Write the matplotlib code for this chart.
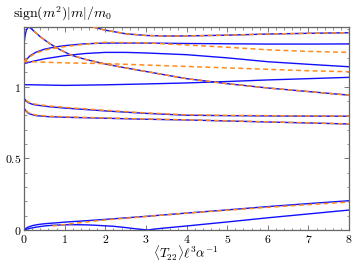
import numpy as np
import matplotlib
matplotlib.use("Agg")
import matplotlib.pyplot as plt
from matplotlib.ticker import MultipleLocator, FuncFormatter

plt.rcParams["mathtext.fontset"] = "cm"
plt.rcParams["font.family"] = "serif"
plt.rcParams["font.serif"] = ["cmr10", "DejaVu Serif"]

# ── data ────────────────────────────────────────────────────────────────────
# blue solid curves
x_top = [1.7, 2.0, 2.5, 3.0, 3.5, 4.0, 5.0, 6.0, 7.0, 8.0]
y_top = [1.415, 1.393, 1.368, 1.356, 1.352, 1.353, 1.358, 1.366, 1.371, 1.375]

x_peak = [0, 0.03, 0.06, 0.1, 0.15, 0.25, 0.4, 0.65, 0.9, 1.15, 1.5, 2.0,
          2.5, 3.0, 3.5, 4.0, 5.0, 6.0, 7.0, 8.0]
y_peak = [1.30, 1.36, 1.395, 1.413, 1.41, 1.385, 1.347, 1.296, 1.255, 1.22,
          1.19, 1.157, 1.13, 1.105, 1.08, 1.055, 1.02, 0.99, 0.965, 0.94]

x_b3 = [0, 0.05, 0.15, 0.3, 0.5, 0.75, 1.0, 1.5, 2.0, 3.0, 4.0, 5.0, 6.0, 7.0, 8.0]
y_b3 = [1.16, 1.185, 1.215, 1.24, 1.26, 1.275, 1.285, 1.298, 1.303, 1.303,
        1.300, 1.298, 1.296, 1.296, 1.297]

x_b2 = [0, 0.25, 0.5, 1.0, 1.5, 2.0, 2.5, 3.0, 4.0, 5.0, 6.0, 7.0, 8.0]
y_b2 = [1.16, 1.178, 1.193, 1.215, 1.23, 1.238, 1.238, 1.234, 1.222, 1.2,
        1.173, 1.155, 1.138]

x_flat = [0, 1, 2, 3, 4, 5, 6, 7, 8]
y_flat = [1.013, 1.008, 1.012, 1.018, 1.025, 1.035, 1.046, 1.055, 1.064]

x_l1 = [0, 0.05, 0.1, 0.2, 0.3, 0.6, 1, 2, 3, 4, 5, 6, 7, 8]
y_l1 = [0.92, 0.90, 0.888, 0.877, 0.871, 0.86, 0.85, 0.83, 0.813, 0.80,
        0.797, 0.795, 0.794, 0.793]

x_l2 = [0, 0.05, 0.1, 0.15, 0.3, 0.6, 1, 2, 3, 4, 5, 6, 7, 8]
y_l2 = [0.85, 0.83, 0.815, 0.808, 0.797, 0.79, 0.786, 0.779, 0.772, 0.767,
        0.76, 0.753, 0.746, 0.739]

x_z1 = [0, 0.15, 0.3, 0.5, 0.7, 1.0, 1.2, 1.5, 1.7, 2.0, 2.2, 2.5, 2.7, 2.9,
        3.05, 3.2, 3.4, 3.7, 4, 5, 6, 7, 8]
y_z1 = [0, 0.012, 0.02, 0.028, 0.033, 0.036, 0.037, 0.036, 0.034, 0.029,
        0.026, 0.017, 0.01, 0.004, 0.0, 0.006, 0.012, 0.02, 0.028, 0.056,
        0.085, 0.112, 0.139]

x_z2 = [0, 0.05, 0.1, 0.2, 0.3, 0.45, 0.6, 0.8, 1, 1.5, 2, 3, 4, 5, 6, 7, 8]
y_z2 = [0, 0.012, 0.02, 0.03, 0.036, 0.042, 0.046, 0.05, 0.055, 0.064,
        0.074, 0.095, 0.118, 0.14, 0.163, 0.184, 0.204]

# orange dashed curves
xo_top = x_top
yo_top = y_top

xo_peak = x_peak[5:]
yo_peak = y_peak[5:]

xo_3 = [0, 0.1, 0.3, 0.6, 1.0, 1.5, 2.0, 3.0, 4.0, 5.0, 6.0, 7.0, 8.0]
yo_3 = [1.17, 1.2, 1.235, 1.26, 1.278, 1.295, 1.308, 1.304, 1.29, 1.274,
        1.256, 1.245, 1.238]

xo_1 = [0, 0.5, 1, 2, 3, 4, 5, 6, 7, 8]
yo_1 = [1.175, 1.17, 1.165, 1.16, 1.15, 1.14, 1.13, 1.12, 1.11, 1.103]

xo_l1 = [0.05, 0.1, 0.2, 0.3, 0.6, 1, 2, 3, 4, 5, 6, 7, 8]
yo_l1 = [0.905, 0.893, 0.882, 0.876, 0.865, 0.855, 0.834, 0.816, 0.803,
         0.799, 0.797, 0.795, 0.794]

xo_l2 = [0.05, 0.1, 0.15, 0.3, 0.6, 1, 2, 3, 4, 5, 6, 7, 8]
yo_l2 = [0.835, 0.82, 0.812, 0.801, 0.793, 0.789, 0.781, 0.774, 0.768,
         0.761, 0.754, 0.747, 0.74]

xo_z2 = [0.7, 1, 1.5, 2, 3, 4, 5, 6, 7, 8]
yo_z2 = [0.028, 0.038, 0.055, 0.07, 0.094, 0.117, 0.138, 0.158, 0.177, 0.195]

BLUE = "#1010ff"
ORANGE = "#ff8c1a"

blue_curves = [(x_top, y_top), (x_peak, y_peak), (x_b3, y_b3), (x_b2, y_b2),
               (x_flat, y_flat), (x_l1, y_l1), (x_l2, y_l2),
               (x_z1, y_z1), (x_z2, y_z2)]
orange_curves = [(xo_top, yo_top), (xo_peak, yo_peak), (xo_3, yo_3),
                 (xo_1, yo_1), (xo_l1, yo_l1), (xo_l2, yo_l2), (xo_z2, yo_z2)]

fig = plt.figure(figsize=(3.57, 2.66), dpi=100)
ax = fig.add_axes([24/357, 36/266, 325/357, 203/266])

for xs, ys in blue_curves:
    ax.plot(xs, ys, "-", color=BLUE, lw=1.0, zorder=2)
for xs, ys in orange_curves:
    ax.plot(xs, ys, "--", color=ORANGE, lw=1.1, dashes=(3.2, 2.2), zorder=3)

ax.set_xlim(0, 8)
ax.set_ylim(0, 1.415)

ax.xaxis.set_major_locator(MultipleLocator(1))
ax.xaxis.set_minor_locator(MultipleLocator(0.2))
ax.yaxis.set_major_locator(MultipleLocator(0.5))
ax.yaxis.set_minor_locator(MultipleLocator(0.1))
ax.xaxis.set_major_formatter(FuncFormatter(lambda v, p: f"${v:g}$"))
ax.yaxis.set_major_formatter(FuncFormatter(lambda v, p: f"${v:g}$"))

ax.tick_params(which="both", direction="in", top=True, right=True,
               colors="0.4", labelcolor="black", labelsize=8.5)
ax.tick_params(which="major", length=3.5, width=0.6, pad=2.0)
ax.tick_params(which="minor", length=1.8, width=0.5)
for sp in ax.spines.values():
    sp.set_color("0.4")
    sp.set_linewidth(0.9)

fig.text(13/357, 1 - 18/266, r"$\mathrm{sign}(m^2)|m|/m_0$", fontsize=10,
         ha="left", va="baseline")
fig.text(186/357, 1 - 259/266, r"$\langle T_{22}\rangle \ell^3 \alpha^{-1}$",
         fontsize=9.5, ha="center", va="baseline")

fig.savefig("out.png", dpi=100)
